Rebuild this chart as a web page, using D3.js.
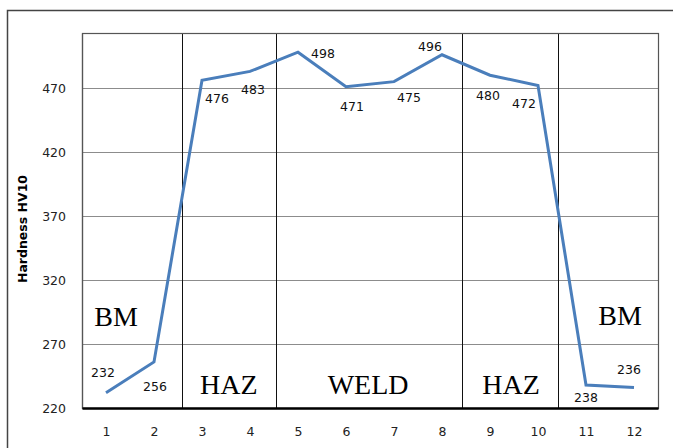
<!DOCTYPE html>
<html>
<head>
<meta charset="utf-8">
<script src="https://cdn.jsdelivr.net/npm/d3@7"></script>
<style>
  body { margin: 0; background: #fff; }
  svg text { font-family: "DejaVu Sans", Verdana, sans-serif; }
</style>
</head>
<body>
<div id="chart"></div>
<script>
// hardness traverse across the weld
var positions = [1, 2, 3, 4, 5, 6, 7, 8, 9, 10, 11, 12];
var hardness = [232, 256, 476, 483, 498, 471, 475, 496, 480, 472, 238, 236];
var yTicks = [220, 270, 320, 370, 420, 470];

// zone dividers (in position units) and zone names
var zoneEdges = [2.58, 4.54, 8.42, 10.41];
var zoneNames = ["BM", "HAZ", "WELD", "HAZ", "BM"];
var zoneNameX = [1.21, 3.56, 6.46, 9.44, 11.71];
var zoneNameY = [284, 231, 231, 231, 285];

// where each value label sits relative to its point (px)
var labelNudge = [[-3, -20], [1, 25], [15, 18], [3, 18], [25, 1], [6, 20],
                  [15, 16], [-12, -8], [-2, 20], [-14, 18], [0, 13], [-5, -18]];

var W = 673, H = 448;
var plot = { left: 82, right: 658, top: 33, bottom: 408 };

var svg = d3.select("#chart").append("svg")
  .attr("width", W)
  .attr("height", H);

// outer chart frame (runs off the right / bottom of the picture)
svg.append("path")
  .attr("d", "M7.5," + (H + 5) + "V10.5H" + (W + 5))
  .attr("fill", "none")
  .attr("stroke", "#444")
  .attr("stroke-width", 1.5);

var x = d3.scaleLinear().domain([0.5, 12.5]).range([plot.left, plot.right]);
var y = d3.scaleLinear().domain([220, 513]).range([plot.bottom, plot.top]);

// gridlines
svg.append("g")
  .selectAll("line")
  .data(yTicks.slice(1))
  .join("line")
  .attr("x1", plot.left).attr("x2", plot.right)
  .attr("y1", function(d) { return Math.round(y(d)) + 0.5; })
  .attr("y2", function(d) { return Math.round(y(d)) + 0.5; })
  .attr("stroke", "#8c8c8c")
  .attr("stroke-width", 1);

// zone dividers
svg.append("g")
  .selectAll("line")
  .data(zoneEdges)
  .join("line")
  .attr("x1", function(d) { return Math.round(x(d)) + 0.5; })
  .attr("x2", function(d) { return Math.round(x(d)) + 0.5; })
  .attr("y1", plot.top).attr("y2", plot.bottom)
  .attr("stroke", "#111")
  .attr("stroke-width", 1);

// plot border
svg.append("rect")
  .attr("x", plot.left + 0.5).attr("y", plot.top + 0.5)
  .attr("width", plot.right - plot.left).attr("height", plot.bottom - plot.top)
  .attr("fill", "none")
  .attr("stroke", "#555")
  .attr("stroke-width", 1.2);

// axes, no tick marks
var yAxis = d3.axisLeft(y).tickValues(yTicks).tickSize(0).tickPadding(16);
var xAxis = d3.axisBottom(x).tickValues(positions).tickSize(0).tickPadding(19);

svg.append("g")
  .attr("transform", "translate(" + plot.left + ",0)")
  .call(yAxis)
  .call(function(g) { g.select(".domain").attr("stroke", "#555").attr("stroke-width", 1.2); })
  .selectAll("text")
  .attr("font-size", 12.5)
  .attr("fill", "#222");

svg.append("g")
  .attr("transform", "translate(0," + plot.bottom + ")")
  .call(xAxis)
  .call(function(g) { g.select(".domain").attr("stroke", "#000").attr("stroke-width", 2.5); })
  .selectAll("text")
  .attr("font-size", 12.5)
  .attr("fill", "#222");

svg.selectAll(".tick text").attr("font-family", "'DejaVu Sans', Verdana, sans-serif");

// y axis title
svg.append("text")
  .attr("transform", "translate(22,229) rotate(-90)")
  .attr("text-anchor", "middle")
  .attr("dominant-baseline", "central")
  .attr("font-family", "'Liberation Sans', Arial, sans-serif")
  .attr("font-weight", "bold")
  .attr("font-size", 12.5)
  .attr("fill", "#000")
  .text("Hardness HV10");

// zone names
svg.append("g")
  .selectAll("text")
  .data(zoneNames)
  .join("text")
  .attr("x", function(d, i) { return x(zoneNameX[i]); })
  .attr("y", function(d, i) { return y(zoneNameY[i]); })
  .attr("text-anchor", "middle")
  .style("font-family", "'Liberation Serif', 'Times New Roman', serif")
  .attr("font-size", 28)
  .attr("fill", "#000")
  .text(function(d) { return d; });

// hardness line
var line = d3.line()
  .x(function(d, i) { return x(positions[i]); })
  .y(function(d) { return y(d); });

svg.append("path")
  .datum(hardness)
  .attr("d", line)
  .attr("fill", "none")
  .attr("stroke", "#4a7ebb")
  .attr("stroke-width", 3)
  .attr("stroke-linejoin", "miter");

// value labels
svg.append("g")
  .selectAll("text")
  .data(hardness)
  .join("text")
  .attr("x", function(d, i) { return x(positions[i]) + labelNudge[i][0]; })
  .attr("y", function(d, i) { return y(d) + labelNudge[i][1]; })
  .attr("text-anchor", "middle")
  .attr("dominant-baseline", "central")
  .attr("font-size", 12.5)
  .attr("fill", "#111")
  .text(function(d) { return d; });
</script>
</body>
</html>
